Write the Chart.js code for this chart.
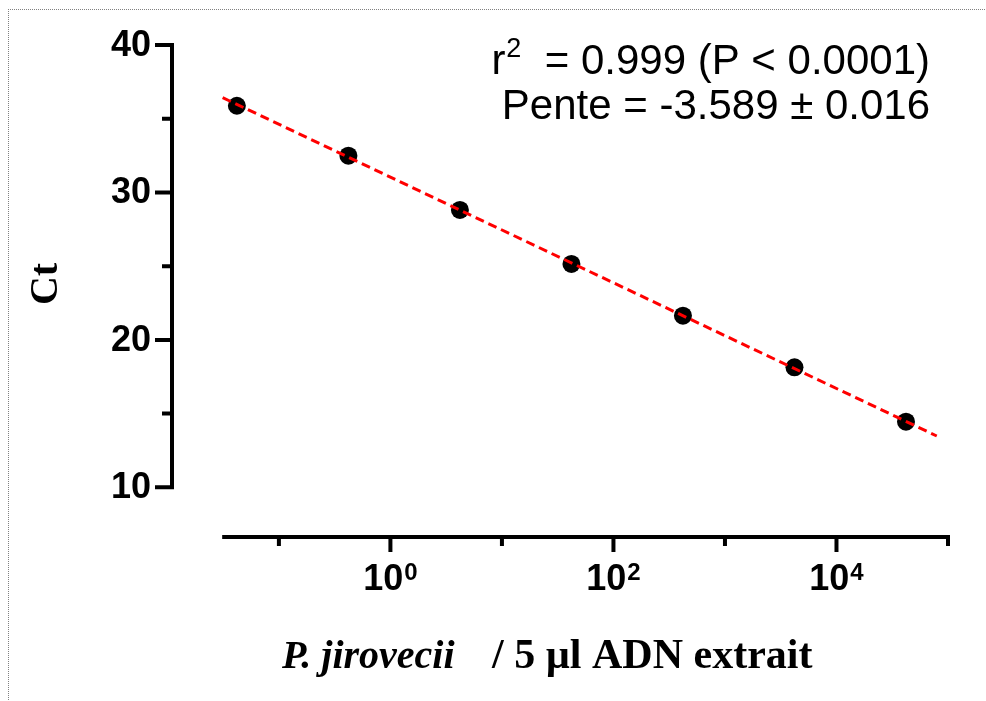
<!DOCTYPE html>
<html>
<head>
<meta charset="utf-8">
<script src="https://cdn.jsdelivr.net/npm/chart.js@4.4.0/dist/chart.umd.min.js"></script>
<style>
body { margin: 0; background: #fff; }
#wrap { width: 986px; height: 701px; position: relative; }
</style>
</head>
<body>
<div id="wrap"><canvas id="myChart"></canvas></div>
<script>
// standard curve: copies per 5 µl extract vs Ct
const copies = [0.042, 0.42, 4.2, 42, 420, 4200, 42000];
const ctValues = [35.88, 32.49, 28.81, 25.15, 21.64, 18.14, 14.45];

// regression line, read at its two ends
const fitX = [0.0313, 79300];
const fitY = [36.43, 13.48];

// axis ticks
const xTicks = [0.1, 1, 10, 100, 1000, 10000, 100000];
const xLabelTicks = [1, 100, 10000];
const xExponents = ['0', '2', '4'];
const yTicks = [10, 15, 20, 25, 30, 35, 40];
const yLabelTicks = [10, 20, 30, 40];

const SANS = 'Liberation Sans, Arial, sans-serif';
const SERIF = 'Liberation Serif, Times New Roman, serif';

let drawAxes = {
    id: 'drawAxes',
    afterDraw(chart) {
        const ctx = chart.ctx;
        const xs = chart.scales.x, ys = chart.scales.y;
        ctx.save();

        // dotted frame (top and left only)
        ctx.strokeStyle = '#808080';
        ctx.lineWidth = 1;
        ctx.setLineDash([1, 1]);
        ctx.beginPath();
        ctx.moveTo(8, 9.5); ctx.lineTo(986, 9.5);
        ctx.moveTo(8.5, 9); ctx.lineTo(8.5, 701);
        ctx.stroke();
        ctx.setLineDash([]);

        ctx.strokeStyle = '#000';
        ctx.fillStyle = '#000';
        ctx.lineWidth = 4;

        // y axis
        const ax = xs.left;
        ctx.beginPath();
        ctx.moveTo(ax, ys.getPixelForValue(40) - 2);
        ctx.lineTo(ax, ys.getPixelForValue(10) + 2);
        yTicks.forEach(v => {
            const py = ys.getPixelForValue(v);
            const len = yLabelTicks.includes(v) ? 17 : 10;
            ctx.moveTo(ax, py);
            ctx.lineTo(ax - len, py);
        });
        ctx.stroke();

        ctx.font = 'bold 36px ' + SANS;
        ctx.textAlign = 'right';
        ctx.textBaseline = 'middle';
        yLabelTicks.forEach(v => {
            ctx.fillText(String(v), 151, ys.getPixelForValue(v) + 1);
        });

        // x axis
        const ay = ys.bottom;
        ctx.beginPath();
        ctx.moveTo(xs.getPixelForValue(0.031), ay);
        ctx.lineTo(xs.getPixelForValue(100000) + 2, ay);
        xTicks.forEach(v => {
            const px = xs.getPixelForValue(v);
            const len = xLabelTicks.includes(v) ? 15 : 9;
            ctx.moveTo(px, ay);
            ctx.lineTo(px, ay + len);
        });
        ctx.stroke();

        ctx.textAlign = 'left';
        ctx.textBaseline = 'alphabetic';
        xLabelTicks.forEach((v, i) => {
            const px = xs.getPixelForValue(v);
            ctx.font = 'bold 36px ' + SANS;
            const wBase = ctx.measureText('10').width;
            ctx.font = 'bold 24px ' + SANS;
            const wExp = ctx.measureText(xExponents[i]).width;
            const left = px - (wBase + wExp + 1) / 2;
            ctx.font = 'bold 36px ' + SANS;
            ctx.fillText('10', left, ay + 53);
            ctx.font = 'bold 24px ' + SANS;
            ctx.fillText(xExponents[i], left + wBase + 1, ay + 43);
        });

        // axis titles
        ctx.font = 'italic bold 40px ' + SERIF;
        ctx.fillText('P. jirovecii', 282, 668);
        ctx.font = 'bold 42px ' + SERIF;
        ctx.fillText('/ 5 µl ADN extrait', 492, 668);

        ctx.save();
        ctx.translate(57, 284);
        ctx.rotate(-Math.PI / 2);
        ctx.textAlign = 'center';
        ctx.font = 'bold 40px ' + SERIF;
        ctx.fillText('Ct', 0, 0);
        ctx.restore();

        // regression stats
        ctx.font = '42px ' + SANS;
        ctx.textAlign = 'right';
        ctx.fillText('Pente = -3.589 \u00b1 0.016', 930, 119);
        const rest = '  = 0.999 (P < 0.0001)';
        const wRest = ctx.measureText(rest).width;
        ctx.fillText(rest, 930, 74);
        ctx.font = '27px ' + SANS;
        const wSup = ctx.measureText('2').width;
        ctx.fillText('2', 930 - wRest, 57);
        ctx.font = '42px ' + SANS;
        ctx.fillText('r', 930 - wRest - wSup - 1, 74);

        ctx.restore();
    }
};

document.addEventListener('DOMContentLoaded', () => {
    new Chart('myChart', {
        type: 'scatter',
        data: {
            datasets: [{
                data: fitX.map((x, i) => ({ x: x, y: fitY[i] })),
                showLine: true,
                borderColor: '#ff0000',
                borderWidth: 3,
                borderDash: [9, 5],
                pointRadius: 0,
                order: 0
            }, {
                data: copies.map((x, i) => ({ x: x, y: ctValues[i] })),
                pointRadius: 9,
                pointBackgroundColor: '#000',
                pointBorderWidth: 0,
                order: 1
            }]
        },
        options: {
            responsive: true,
            maintainAspectRatio: false,
            animation: false,
            layout: { padding: { left: 172, right: 38, top: 45, bottom: 164 } },
            plugins: {
                legend: { display: false },
                tooltip: { enabled: false }
            },
            scales: {
                x: { type: 'logarithmic', min: 0.011, max: 100000, display: false },
                y: { min: 6.63, max: 40, display: false }
            }
        },
        plugins: [drawAxes]
    });
});
</script>
</body>
</html>
